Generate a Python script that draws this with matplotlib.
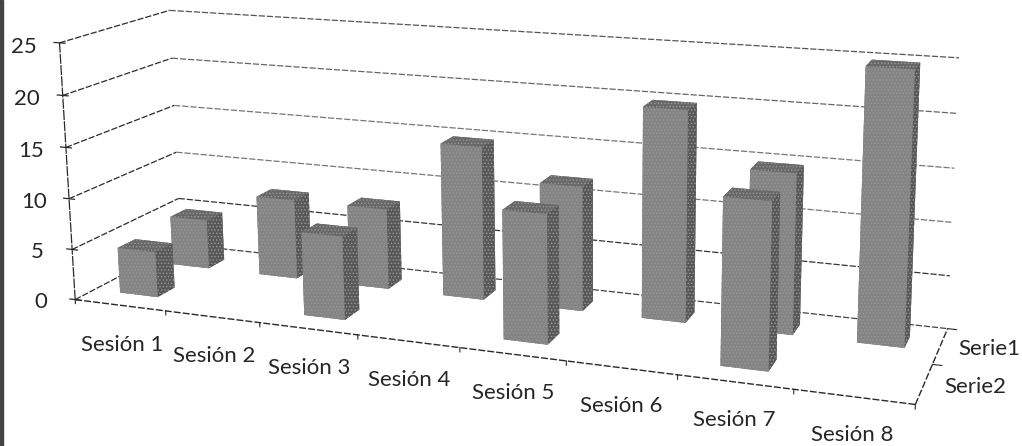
import numpy as np
import matplotlib
matplotlib.use("Agg")
import matplotlib.pyplot as plt
from matplotlib.patches import Rectangle
from mpl_toolkits.mplot3d import proj3d

sessions = ["Sesión 1", "Sesión 2", "Sesión 3", "Sesión 4", "Sesión 5", "Sesión 6", "Sesión 7", "Sesión 8"]
series_names = ["Serie2", "Serie1"]
z_ticks = [0, 5, 10, 15, 20, 25]
serie1 = [5, 8, 8, 15, 12, 20, 15, 25]
serie2 = [4.5, None, 8, None, 12, None, 15, None]

W, H = 1022, 446
plt.rcParams['font.family'] = ['Lato', 'DejaVu Sans']
plt.rcParams['hatch.linewidth'] = 0.6

# camera: fitted from where the chart box corners lie in the picture
world = [(0,0,0),(0,0,25),(8,0,0),(8,2,0),(0,2,0),(0,2,25),(8,2,25)]
image = [(76,300),(59,42),(915,405),(948,328),(180,244),(170,11),(959,58)]
A = []
for (x,y,z),(u,v) in zip(world,image):
    A.append([x,y,z,1,0,0,0,0,-u*x,-u*y,-u*z,-u])
    A.append([0,0,0,0,x,y,z,1,-v*x,-v*y,-v*z,-v])
P = np.linalg.svd(np.array(A,float))[2][-1].reshape(3,4)
if P[2,3] < 0:
    P = -P
M = np.vstack([P[0], P[1], [0,0,0,-1], P[2]])

fig = plt.figure(figsize=(W/100, H/100), dpi=100, facecolor='white')
ax = fig.add_axes([0,0,1,1], projection='3d', computed_zorder=False)
ax.set_proj_type('ortho')
ax.apply_aspect = lambda position=None: None
ax.get_proj = lambda: M
ax.set_axis_off()
ax.patch.set_visible(False)
ax._viewLim.set_points(np.array([[0., H],[W, 0.]]))

def line(xs, ys, zs, color='#2a2a2a', lw=0.9, ls=(0,(5,1.5)), zo=1):
    ax.plot(xs, ys, zs, color=color, lw=lw, ls=ls, zorder=zo)

def label(x, y, z, s, size):
    u, v, _ = proj3d.proj_transform(x, y, z, M)
    ax.text2D(float(u), float(v), s, transform=ax.transData, ha='center', va='center',
              fontsize=size, color='#262626', zorder=9)

grid_cols = {0:'#444444',5:'#333333',10:'#777777',15:'#777777',20:'#666666',25:'#555555'}
for z in z_ticks:
    line([0,0],[0,2],[z,z], color='#2a2a2a')
    line([0,8],[2,2],[z,z], color=grid_cols[z])
    line([-0.06,0.06],[0,0],[z,z], ls='-')
    label(-0.40, 0, z-0.65, str(z), 16)
line([0,0],[0,0],[0,25], ls=(0,(8,1)))
line([0,8],[0,0],[0,0], lw=1.0)
line([8,8],[0,2],[0,0], lw=1.0)
for i in range(9):
    line([i,i],[0,0],[0,-0.4], ls='-', lw=0.8)
for y in (1,2):
    line([8,8.08],[y,y],[0,0], ls='-', lw=0.8)

for i, name in enumerate(sessions):
    label(i+0.5, 0, -4.0+0.1*i, name, 16)
for y, name in zip((0.5,1.5), series_names):
    label(8.42, y, 0.25, name, 16)

w, d = 0.42, 0.32
face_cols = ['#707070','#686868','#848484','#707070','#707070','#585858']
def bars(vals, yc, zo):
    for i, v in enumerate(vals):
        if v is None:
            continue
        b = ax.bar3d(i+0.5-w/2, yc-d/2, 0, w, d, v, color=face_cols, shade=False,
                     edgecolor='#989898', linewidth=0, zorder=zo+i*0.01)
        b.set_hatch('.....')
bars(serie1, 1.5, 3)
bars(serie2, 0.5, 5)

fig.add_artist(Rectangle((0,0), 3/W, 1, transform=fig.transFigure, color='#444444'))
fig.savefig('out.png', dpi=100)
